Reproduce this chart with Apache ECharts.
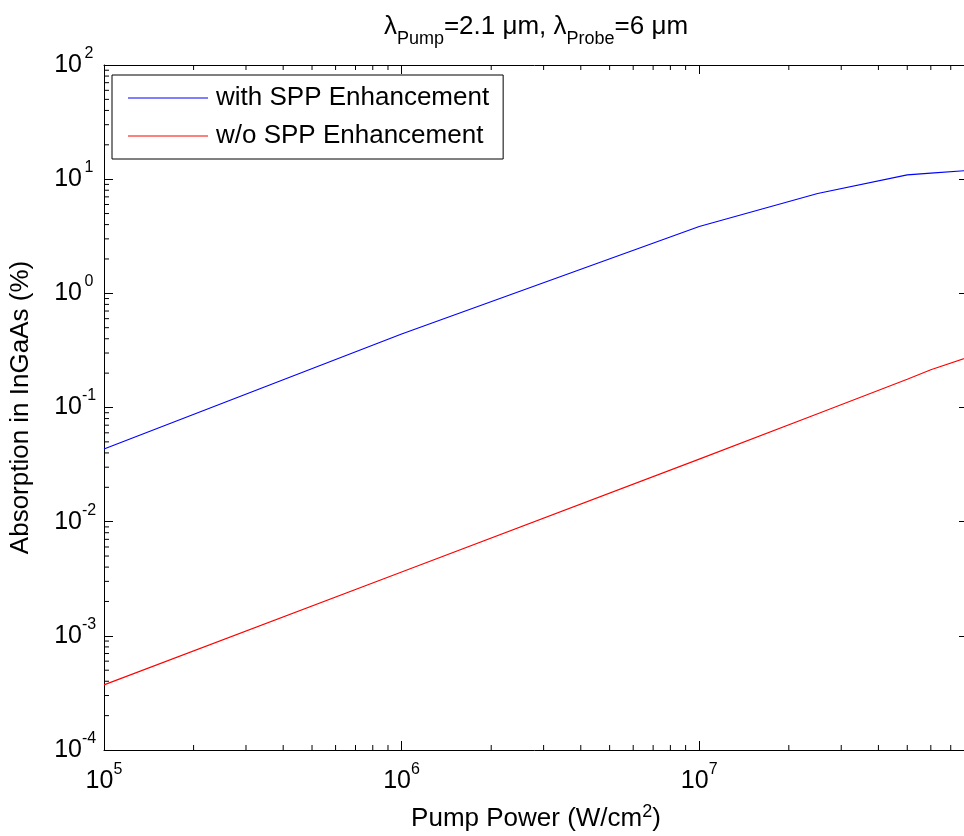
<!DOCTYPE html>
<html lang="en">
<head>
    <meta charset="utf-8">
    <title>Absorption in InGaAs</title>
    <script type="text/javascript" src="https://cdn.jsdelivr.net/npm/echarts@6/dist/echarts.min.js"></script>
    <style>
        html, body { margin: 0; padding: 0; background: #fff; }
        #main { width: 964px; height: 836px; }
    </style>
</head>
<body>
<div id="main"></div>
<script type="text/javascript">
    // axis ranges
    var xMin = 1e5, xMax = 8e7;
    var yMin = 1e-4, yMax = 1e2;

    // data
    var pumpPower  = [1e5, 1e6, 1e7, 2.5e7, 5e7, 6e7, 8e7];
    var withSPP    = [0.0433, 0.44, 3.85, 7.5, 10.9, 11.3, 11.9];
    var withoutSPP = [3.72e-4, 3.63e-3, 0.0353, 0.088, 0.177, 0.214, 0.275];

    // minor tick values (log axis, 2..9 per decade)
    var xMinorTicks = [2e5, 3e5, 4e5, 5e5, 6e5, 7e5, 8e5, 9e5,
                       2e6, 3e6, 4e6, 5e6, 6e6, 7e6, 8e6, 9e6,
                       2e7, 3e7, 4e7, 5e7, 6e7, 7e7];
    var yMinorTicks = [];
    for (var e = -4; e < 2; e++) {
        for (var m = 2; m <= 9; m++) {
            yMinorTicks.push(m * Math.pow(10, e));
        }
    }

    var FONT = '"Liberation Sans", Arial, sans-serif';

    function pairs(xs, ys) {
        var out = [];
        for (var i = 0; i < xs.length; i++) out.push([xs[i], ys[i]]);
        return out;
    }

    function expLabel(v) {
        return '{b|10}{s|' + Math.round(Math.log10(v)) + '}';
    }

    var tickLine = function (x1, y1, x2, y2) {
        return {
            type: 'line',
            shape: { x1: x1, y1: y1, x2: x2, y2: y2 },
            style: { stroke: '#000', lineWidth: 1 }
        };
    };

    var myChart = echarts.init(document.getElementById('main'), null, { renderer: 'canvas' });

    var option = {
        backgroundColor: '#fff',
        animation: false,
        textStyle: { fontFamily: FONT },
        grid: {
            left: 104, top: 65, width: 864, height: 685,
            containLabel: false, outerBoundsMode: 'none'
        },
        legend: {
            data: ['with SPP Enhancement', 'w/o SPP Enhancement'],
            orient: 'vertical',
            left: 112,
            top: 75,
            padding: [9, 14, 9, 16],
            icon: 'rect',
            itemWidth: 80,
            itemHeight: 1,
            itemGap: 10,
            backgroundColor: '#fff',
            borderColor: '#000',
            borderWidth: 1,
            textStyle: { fontSize: 26, lineHeight: 28, color: '#000', fontFamily: FONT, padding: [0, 0, 0, 3] }
        },
        xAxis: [
            {
                type: 'log', logBase: 10, min: xMin, max: xMax,
                position: 'bottom',
                splitNumber: 3,
                name: '{a|Pump Power (W/cm}{s|2}{a|)}',
                nameLocation: 'middle',
                nameGap: 53,
                nameTextStyle: {
                    color: '#000',
                    rich: {
                        a: { fontSize: 26, fontFamily: FONT, color: '#000', lineHeight: 32 },
                        s: { fontSize: 18, fontFamily: FONT, color: '#000', verticalAlign: 'top', lineHeight: 18 }
                    }
                },
                axisLine: { onZero: false, lineStyle: { color: '#000', width: 1 } },
                axisTick: { inside: true, length: 9, lineStyle: { color: '#000' } },
                axisLabel: {
                    margin: 12,
                    showMaxLabel: false,
                    color: '#000',
                    formatter: expLabel,
                    rich: {
                        b: { fontSize: 25, fontFamily: FONT, color: '#000', lineHeight: 39 },
                        s: { fontSize: 16, fontFamily: FONT, color: '#000', verticalAlign: 'top', lineHeight: 16, width: 9, align: 'left' }
                    }
                },
                splitLine: { show: false }
            },
            {
                type: 'log', logBase: 10, min: xMin, max: xMax,
                position: 'top',
                splitNumber: 3,
                name: '{m|λ}{s|Pump}{m|=2.1 μm, λ}{s|Probe}{m|=6 μm}',
                nameLocation: 'middle',
                nameGap: 17,
                nameTextStyle: {
                    color: '#000',
                    rich: {
                        m: { fontSize: 26, fontFamily: FONT, color: '#000', lineHeight: 34, verticalAlign: 'top' },
                        s: { fontSize: 18, fontFamily: FONT, color: '#000', lineHeight: 20, verticalAlign: 'bottom' }
                    }
                },
                axisLine: { onZero: false, lineStyle: { color: '#000', width: 1 } },
                axisTick: { inside: true, length: 9, lineStyle: { color: '#000' } },
                axisLabel: { show: false },
                splitLine: { show: false }
            }
        ],
        yAxis: [
            {
                type: 'log', logBase: 10, min: yMin, max: yMax,
                position: 'left',
                interval: 1,
                splitNumber: 6,
                name: 'Absorption in InGaAs (%)',
                nameLocation: 'middle',
                nameGap: 70,
                nameTextStyle: { fontSize: 26, color: '#000', fontFamily: FONT },
                axisLine: { onZero: false, lineStyle: { color: '#000', width: 1 } },
                axisTick: { inside: true, length: 9, lineStyle: { color: '#000' } },
                axisLabel: {
                    margin: 8,
                    color: '#000',
                    formatter: expLabel,
                    rich: {
                        b: { fontSize: 25, fontFamily: FONT, color: '#000', lineHeight: 39 },
                        s: { fontSize: 16, fontFamily: FONT, color: '#000', verticalAlign: 'top', lineHeight: 16, width: 14, align: 'left' }
                    }
                },
                splitLine: { show: false }
            },
            {
                type: 'log', logBase: 10, min: yMin, max: yMax,
                position: 'right',
                interval: 1,
                splitNumber: 6,
                axisLine: { onZero: false, lineStyle: { color: '#000', width: 1 } },
                axisTick: { inside: true, length: 9, lineStyle: { color: '#000' } },
                axisLabel: { show: false },
                splitLine: { show: false }
            }
        ],
        series: [
            {
                name: 'with SPP Enhancement',
                type: 'line',
                data: pairs(pumpPower, withSPP),
                symbol: 'none',
                smooth: false,
                lineStyle: { color: '#0000ff', width: 1.1 },
                itemStyle: { color: '#0000ff' },
                z: 5
            },
            {
                name: 'w/o SPP Enhancement',
                type: 'line',
                data: pairs(pumpPower, withoutSPP),
                symbol: 'none',
                smooth: false,
                lineStyle: { color: '#ff0000', width: 1.1 },
                itemStyle: { color: '#ff0000' },
                z: 5
            },
            {
                // minor ticks on bottom and top axes
                name: 'xMinor',
                type: 'custom',
                silent: true,
                clip: false,
                data: xMinorTicks.map(function (v) { return [v, yMin]; }),
                renderItem: function (params, api) {
                    var v = api.value(0);
                    var b = api.coord([v, yMin]);
                    var t = api.coord([v, yMax]);
                    return {
                        type: 'group',
                        children: [
                            tickLine(b[0], b[1], b[0], b[1] - 5),
                            tickLine(t[0], t[1], t[0], t[1] + 5)
                        ]
                    };
                },
                z: 3
            },
            {
                // minor ticks on left and right axes
                name: 'yMinor',
                type: 'custom',
                silent: true,
                clip: false,
                data: yMinorTicks.map(function (v) { return [xMin, v]; }),
                renderItem: function (params, api) {
                    var v = api.value(1);
                    var l = api.coord([xMin, v]);
                    var r = api.coord([xMax, v]);
                    return {
                        type: 'group',
                        children: [
                            tickLine(l[0], l[1], l[0] + 5, l[1]),
                            tickLine(r[0], r[1], r[0] - 4, r[1])
                        ]
                    };
                },
                z: 3
            }
        ]
    };

    myChart.setOption(option);
</script>
</body>
</html>
